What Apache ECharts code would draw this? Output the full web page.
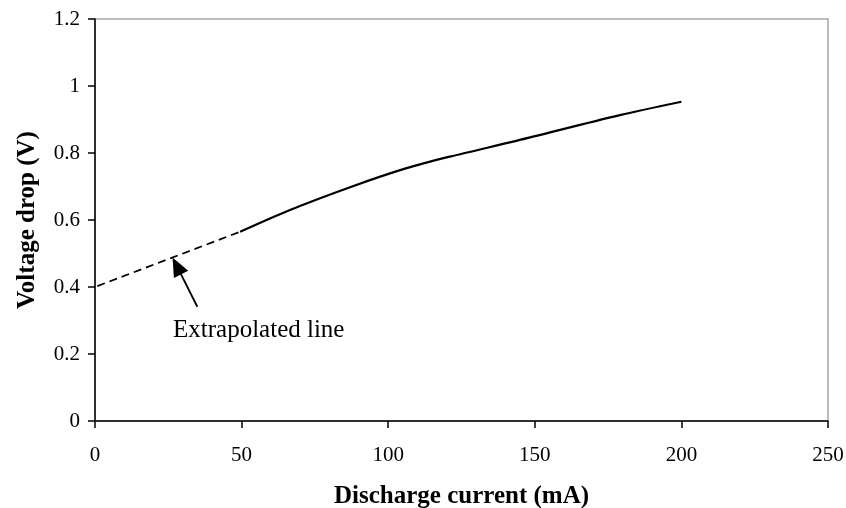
<!DOCTYPE html>
<html>
<head>
    <meta charset="utf-8">
    <script src="https://cdn.jsdelivr.net/npm/echarts@6/dist/echarts.min.js"></script>
    <title>Voltage drop</title>
    <style>
        html, body { margin: 0; padding: 0; background: #fff; }
        #main { width: 846px; height: 508px; }
    </style>
</head>
<body>
<div id="main"></div>
<script type="text/javascript">
    // measured curve (solid)
    var currentMeasured = [49.5, 66.5, 87, 106, 121, 144, 179, 200];
    var voltageMeasured = [0.565, 0.63, 0.698, 0.754, 0.789, 0.837, 0.913, 0.953];
    // extrapolated part (dashed)
    var currentExtra = [-7.5, 49.5];
    var voltageExtra = [0.375, 0.565];
    // arrow pointing at the dashed line: [tail, tip]
    var arrowFrom = [34.9, 0.341];
    var arrowTo = [27.9, 0.463];

    var font = 'Liberation Serif';

    function pairs(xs, ys) {
        var out = [];
        for (var i = 0; i < xs.length; i++) out.push([xs[i], ys[i]]);
        return out;
    }

    var myChart = echarts.init(document.getElementById('main'));
    var option = {
        backgroundColor: '#fff',
        animation: false,
        grid: {
            left: 95, right: 18, top: 19, bottom: 87,
            containLabel: false,
            outerBoundsMode: 'none',
            show: true,
            borderColor: '#a6a6a6',
            borderWidth: 1.5,
            backgroundColor: 'transparent'
        },
        xAxis: {
            type: 'value',
            min: 0, max: 250, interval: 50,
            name: 'Discharge current (mA)',
            nameLocation: 'middle',
            nameGap: 63,
            nameTextStyle: { fontFamily: font, fontSize: 25, fontWeight: 'bold', color: '#000' },
            axisLine: { lineStyle: { color: '#000', width: 1.5 } },
            axisTick: { show: true, length: 7, lineStyle: { color: '#000', width: 1.5 } },
            axisLabel: { fontFamily: font, fontSize: 21, color: '#000', margin: 24 },
            splitLine: { show: false }
        },
        yAxis: {
            type: 'value',
            min: 0, max: 1.2, interval: 0.2,
            name: 'Voltage drop (V)',
            nameLocation: 'middle',
            nameGap: 55,
            nameTextStyle: { fontFamily: font, fontSize: 25, fontWeight: 'bold', color: '#000' },
            axisLine: { show: true, lineStyle: { color: '#000', width: 1.5 } },
            axisTick: { show: true, length: 7, lineStyle: { color: '#000', width: 1.5 } },
            axisLabel: { fontFamily: font, fontSize: 21, color: '#000', margin: 15 },
            splitLine: { show: false }
        },
        series: [{
            name: 'measured',
            type: 'line',
            data: pairs(currentMeasured, voltageMeasured),
            smooth: 0.3,
            showSymbol: false,
            lineStyle: { color: '#000', width: 2.2 }
        }, {
            name: 'extrapolated',
            type: 'line',
            data: pairs(currentExtra, voltageExtra),
            clip: false,
            showSymbol: false,
            lineStyle: { color: '#000', width: 1.8, type: [8, 5] },
            markLine: {
                silent: true,
                symbol: ['none', 'triangle'],
                symbolSize: [16, 19],
                label: { show: false },
                lineStyle: { color: '#000', width: 1.8, type: 'solid' },
                data: [[{ coord: arrowFrom }, { coord: arrowTo }]]
            }
        }],
        graphic: [{
            type: 'text',
            left: 173,
            top: 318,
            style: { text: 'Extrapolated line', fontFamily: font, fontSize: 25, fill: '#000' }
        }]
    };
    myChart.setOption(option);
</script>
</body>
</html>
